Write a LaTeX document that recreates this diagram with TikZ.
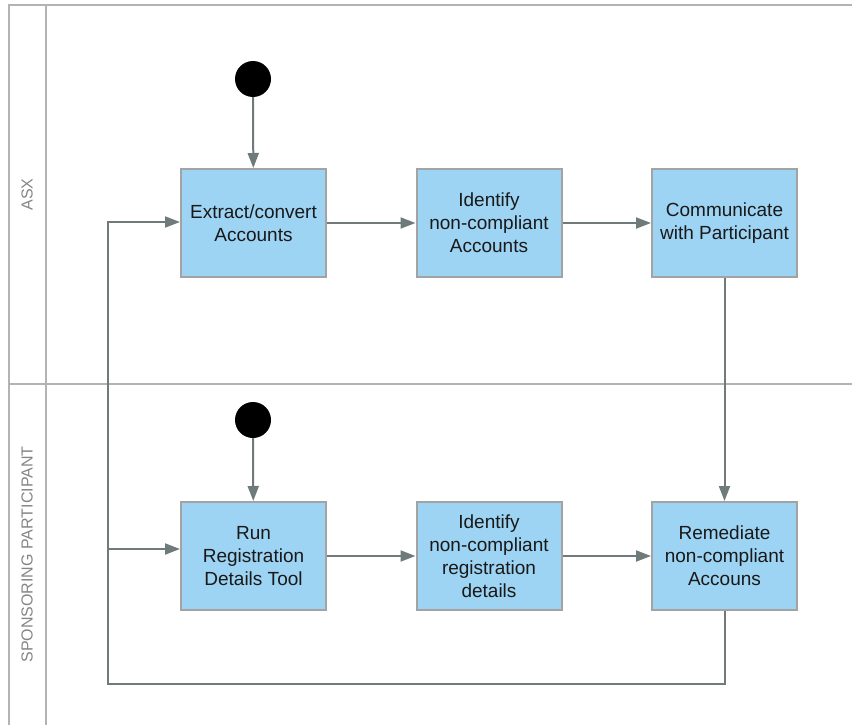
\documentclass[tikz,border=0pt]{standalone}
\usepackage{fontspec}
\setmainfont{Liberation Sans}
\usetikzlibrary{arrows.meta}
\definecolor{boxfill}{HTML}{9DD3F3}
\definecolor{boxline}{HTML}{A3A3A3}
\definecolor{flow}{HTML}{6F7B7B}
\definecolor{lane}{HTML}{B3B3B3}
\definecolor{lanetext}{HTML}{858585}
\tikzset{
  x=1pt, y=-1pt,
  actbox/.style={draw=boxline, line width=2pt, fill=boxfill, minimum width=145pt, minimum height=108pt,
    inner sep=0pt, align=center, font=\fontsize{19}{23}\selectfont, text=black!90},
  startdot/.style={circle, fill=black, minimum size=36pt, inner sep=0pt},
  flowline/.style={draw=flow, line width=2pt},
  flowarrow/.style={flowline, -{Triangle[length=15pt,width=11pt]}},
  laneline/.style={draw=lane, line width=2pt},
  lanelabel/.style={text=lanetext, font=\fontsize{16}{19}\selectfont, rotate=90}
}
\begin{document}
\begin{tikzpicture}
\useasboundingbox (0,0) rectangle (852,725);
% lanes
\draw[laneline] (9,725) -- (9,5) -- (852,5);
\draw[laneline] (46,5) -- (46,725);
\draw[laneline] (9,384) -- (852,384);
\node[lanelabel] (asx) at (27,194.5) {ASX};
\node[lanelabel] (sp) at (27,554.5) {SPONSORING PARTICIPANT};
% nodes
\node[startdot] (s1) at (253,79) {};
\node[startdot] (s2) at (253,420) {};
\node[actbox] (a1) at (253.5,223) {Extract/convert\\Accounts};
\node[actbox] (a2) at (489,223) {Identify\\non-compliant\\Accounts};
\node[actbox] (a3) at (724.5,223) {Communicate\\with Participant};
\node[actbox] (b1) at (253.5,556) {Run\\Registration\\Details Tool};
\node[actbox] (b2) at (489,556) {Identify\\non-compliant\\registration\\details};
\node[actbox] (b3) at (724.5,556) {Remediate\\non-compliant\\Accouns};
\coordinate (lx) at (108,684);
\coordinate (ly) at (108,222);
\coordinate (lb) at (108,549);
% connectors
\draw[flowarrow] (s1) -- (a1);
\draw[flowarrow] (s2) -- (b1);
\draw[flowarrow] (a1) -- (a2);
\draw[flowarrow] (a2) -- (a3);
\draw[flowarrow] (b1) -- (b2);
\draw[flowarrow] (b2) -- (b3);
\draw[flowarrow] (a3) -- (b3);
\draw[flowarrow] (b3.south) |- (lx) -- (ly) -- (a1.west |- ly);
\draw[flowarrow] (lb) -- (b1.west |- lb);
\end{tikzpicture}
\end{document}
